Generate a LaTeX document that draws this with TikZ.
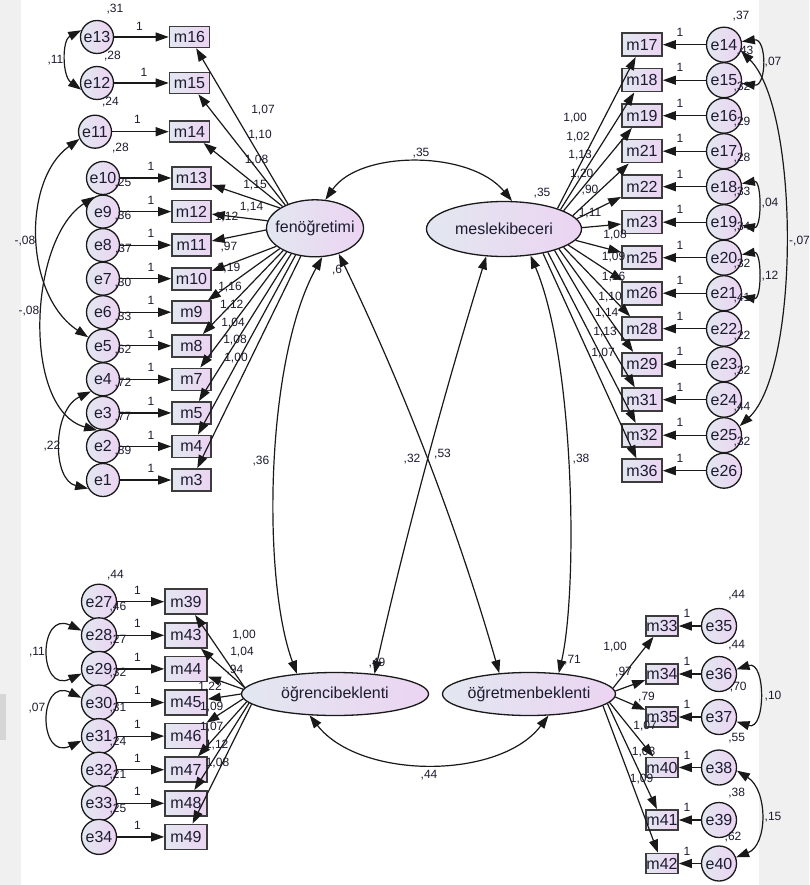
\documentclass[tikz,border=0pt]{standalone}
\usepackage{fontspec}
\setmainfont{Liberation Sans}
\usetikzlibrary{shapes.geometric,arrows.meta}
\definecolor{fa}{RGB}{226,231,240}
\definecolor{fb}{RGB}{236,212,242}
\definecolor{bgg}{RGB}{240,240,240}
\definecolor{bgd}{RGB}{214,214,214}
\definecolor{tx}{RGB}{28,28,48}
\definecolor{ln}{RGB}{25,25,25}
\definecolor{bx}{RGB}{60,60,60}
\tikzset{
 ev/.style={circle, draw=ln, line width=1.3pt, left color=fa, right color=fb, inner sep=0pt, font=\fontsize{16}{16}\selectfont, text=tx},
 evA/.style={ev, minimum size=33pt},
 evB/.style={ev, minimum size=35pt},
 ob/.style={rectangle, draw=bx, line width=1.6pt, left color=fa, right color=fb, inner sep=0pt, font=\fontsize{16}{16}\selectfont, text=tx},
 obA/.style={ob, minimum width=39pt, minimum height=22pt},
 obB/.style={ob, minimum width=40pt, minimum height=23pt},
 obC/.style={ob, minimum width=42pt, minimum height=25pt},
 obD/.style={ob, minimum width=32pt, minimum height=20pt},
 lat/.style={ellipse, draw=ln, line width=1.3pt, left color=fa, right color=fb, inner sep=0pt},
 latxt/.style={inner sep=0pt, font=\fontsize{16}{16}\selectfont, text=tx},
 lab/.style={inner sep=0pt, font=\fontsize{12}{12}\selectfont, text=tx},
 arr/.style={draw=ln, line width=1.2pt, -{Triangle[length=13pt,width=9pt]}},
 cov/.style={draw=ln, line width=1.2pt, {Triangle[length=13pt,width=9pt]}-{Triangle[length=13pt,width=9pt]}},
}
\begin{document}
\begin{tikzpicture}[x=1pt,y=-1pt]
\useasboundingbox (0,0) rectangle (809,885);
\fill[white] (0,0) rectangle (809,885);
\fill[bgg] (0,0) rectangle (21,885);
\fill[bgg] (759,0) rectangle (809,885);
\fill[bgd] (0,694) rectangle (6,740);

% latent variables
\node[lat, minimum width=97pt, minimum height=57pt, label={[name=fent,latxt]center:fenöğretimi}] (fen) at (315,228.3) {};
\node[lat, minimum width=155pt, minimum height=55pt, label={[name=meslt,latxt]center:meslekibeceri}] (mesl) at (504,229) {};
\node[lat, minimum width=187pt, minimum height=43pt, label={[name=ogrtx,latxt]center:öğrencibeklenti}] (ogr) at (335,694) {};
\node[lat, minimum width=173pt, minimum height=43pt, label={[name=ogrttx,latxt]center:öğretmenbeklenti}] (ogrt) at (529,694) {};

% top-left group
\node[evA] (e13) at (97,37) {e13};
\node[evA] (e12) at (97,83) {e12};
\node[evA] (e11) at (95,131.7) {e11};
\node[obA, minimum width=40pt, minimum height=21pt] (m16) at (189.5,37) {m16};
\node[obA, minimum width=40pt, minimum height=21pt] (m15) at (189.5,83) {m15};
\node[obA, minimum width=40pt, minimum height=21pt] (m14) at (189.5,131.7) {m14};
\foreach \e/\m/\y in {10/13/178, 9/12/211.6, 8/11/245.1, 7/10/278.7, 6/9/312.2, 5/8/345.8, 4/7/379.3, 3/5/412.9, 2/4/446.4, 1/3/480} {
  \node[evA] (e\e) at (103,\y) {e\e};
  \node[obA] (m\m) at (191.5,\y) {m\m};
  \node[lab] (one\e) at (151,\y-11.5) {1};
}
\node[lab] (one13) at (139.5,26) {1};
\node[lab] (one12) at (144,72.5) {1};
\node[lab] (one11) at (137.5,119.5) {1};

% top-right group
\foreach \e/\m/\y in {14/17/44.7, 15/18/80.2, 16/19/115.7, 17/21/151.2, 18/22/186.7, 19/23/222.2, 20/25/257.7, 21/26/293.2, 22/28/328.7, 23/29/364.2, 24/31/399.7, 25/32/435.2, 26/36/470.7} {
  \node[evB] (e\e) at (724,\y) {e\e};
  \node[obB] (m\m) at (642,\y) {m\m};
  \node[lab] (one\e) at (680,\y-12.5) {1};
}

% bottom-left group
\foreach \e/\m/\y in {27/39/601.7, 28/43/635.3, 29/44/668.9, 30/45/702.5, 31/46/736.1, 32/47/769.7, 33/48/803.3, 34/49/836.9} {
  \node[evB] (e\e) at (99,\y) {e\e};
  \node[obC] (m\m) at (186,\y) {m\m};
  \node[lab] (one\e) at (137.5,\y-11.7) {1};
}

% bottom-right group
\foreach \e/\m/\y in {35/33/626, 36/34/674, 37/35/717, 38/40/767.5, 39/41/820, 40/42/863.5} {
  \node[evB] (e\e) at (719,\y) {e\e};
  \node[obD] (m\m) at (662,\y) {m\m};
  \node[lab] (one\e) at (687,\y-12.5) {1};
}

% path coefficient labels
\foreach \x/\y/\t [count=\i] in {263/110/{1,07}, 260/135/{1,10}, 256.5/160/{1,08}, 255/185/{1,15}, 251.5/207/{1,14}, 226.5/217/{1,12}, 229/247/{,97}, 228.5/268/{1,19}, 230/286.7/{1,16}, 231.7/305/{1,12}, 233/323/{1,04}, 235/340/{1,08}, 236/358/{1,00},
  575/118/{1,00}, 578/137/{1,02}, 580/155/{1,13}, 581.7/174/{1,20}, 590/190/{,90}, 590/213/{1,11}, 615/235/{1,08}, 613.5/257/{1,09}, 613.5/277/{1,16}, 610/297/{1,10}, 606.7/313/{1,14}, 605/332/{1,13}, 603/353/{1,07},
  244/635/{1,00}, 242/651.7/{1,04}, 235/670/{,94}, 210/687/{1,22}, 211.7/707/{1,09}, 211.7/727.5/{1,07}, 216.7/745/{1,12}, 217.5/763/{1,08},
  615/647/{1,00}, 623.5/672/{,97}, 646.5/697/{,79}, 645/726/{1,07}, 643.5/752.5/{1,03}, 641.5/779/{1,09}}
  \node[lab] (pc\i) at (\x,\y) {\t};

% variance labels
\foreach \x/\y/\t [count=\i] in {115/9/{,31}, 112.5/56/{,28}, 110.5/102.5/{,24}, 120.5/148/{,28}, 123/183/{,25}, 123/216/{,36}, 123.5/249/{,37}, 123/283/{,30}, 123/317/{,33}, 123/350/{,62}, 123/383/{,72}, 123/417/{,77}, 123/451/{,89},
  741/16/{,37}, 745/51/{,43}, 742/87.5/{,32}, 742/122.5/{,29}, 742/158/{,28}, 742/192.5/{,33}, 742/227.5/{,34}, 742/264/{,32}, 742/298/{,41}, 742/336/{,22}, 742/371/{,32}, 742/407/{,44}, 742/442/{,32},
  115.5/575/{,44}, 118/606.7/{,46}, 118/640/{,27}, 118/673.5/{,32}, 118/708/{,31}, 118/741.7/{,24}, 118/775/{,21}, 118/809/{,25},
  736.7/595/{,44}, 736.7/645/{,44}, 738.3/686.7/{,70}, 736.7/738.3/{,55}, 736.7/792.7/{,38}, 733/836.7/{,62},
  421/153/{,35}, 542/193/{,35}, 337/270/{,6}, 572.5/660/{,71}, 377/663/{,49}, 429/775/{,44}, 261/461/{,36}, 412/459/{,32}, 442.5/454/{,53}, 581/459/{,38},
  55.5/60/{,11}, 25/241/{-,08}, 29/311/{-,08}, 52/446/{,22}, 773/62/{,07}, 770/203/{,04}, 770/276/{,12}, 37/652/{,11}, 37/708/{,07}, 773/696/{,10}, 773/817/{,15}}
  \node[lab] (vl\i) at (\x,\y) {\t};
\node[lab, anchor=west] (vlm07) at (789,241) {-,07};

% error -> indicator arrows
\foreach \e/\m in {13/16, 12/15, 11/14, 10/13, 9/12, 8/11, 7/10, 6/9, 5/8, 4/7, 3/5, 2/4, 1/3,
  14/17, 15/18, 16/19, 17/21, 18/22, 19/23, 20/25, 21/26, 22/28, 23/29, 24/31, 25/32, 26/36,
  27/39, 28/43, 29/44, 30/45, 31/46, 32/47, 33/48, 34/49,
  35/33, 36/34, 37/35, 38/40, 39/41, 40/42}
  \draw[arr] (e\e) -- (m\m);

% latent -> indicator arrows
\foreach \m/\a in {16/138, 15/142, 14/146, 13/150, 12/171, 11/182, 10/205, 9/210, 8/215, 7/220, 5/227, 4/234, 3/243}
  \draw[arr] (fen.\a) -- (m\m);
\foreach \m/\a in {17/21, 18/19, 19/17, 21/11, 22/8, 23/1, 25/-9, 26/-14, 28/-17, 29/-20, 31/-23, 32/-28, 36/-32}
  \draw[arr] (mesl.\a) -- (m\m);
\foreach \m/\a in {39/176, 43/176.5, 44/177.5, 45/180, 46/183, 47/185, 48/186, 49/187}
  \draw[arr] (ogr.\a) -- (m\m);
\foreach \m/\a in {33/4, 34/2, 35/-2, 40/-6, 41/-7.5, 42/-9}
  \draw[arr] (ogrt.\a) -- (m\m);

% covariances between errors
\draw[cov] (e13.157) .. controls (62,40) and (62,76) .. (e12.203);
\draw[cov] (e11.205) .. controls (22,180) and (24,295) .. (e5.150);
\draw[cov] (e9.120) .. controls (28,240) and (22,410) .. (e2.110);
\draw[cov] (e4.225) .. controls (52,410) and (52,480) .. (e1.210);
\draw[cov] (e14.10) .. controls (767,38) and (767,87) .. (e15.-10);
\draw[cov] (e18.10) .. controls (762,180) and (762,229) .. (e19.-10);
\draw[cov] (e20.10) .. controls (762,251) and (762,300) .. (e21.-10);
\draw[cov] (e14.-20) .. controls (800,110) and (800,370) .. (e25.30);
\draw[cov] (e28.165) .. controls (38,610) and (38,694) .. (e29.195);
\draw[cov] (e30.165) .. controls (38,677) and (38,761) .. (e31.195);
\draw[cov] (e36.15) .. controls (766,660) and (766,731) .. (e37.-15);
\draw[cov] (e38.-10) .. controls (768,790) and (768,845) .. (e40.20);

% covariances between latent variables
\draw[cov] (fen.70) .. controls (360,150) and (470,150) .. (mesl.74);
\draw[cov] (fen.-76) .. controls (265,360) and (262,580) .. (ogr.152);
\draw[cov] (fen.-47) .. controls (404,389) and (458,529) .. (ogrt.145);
\draw[cov] (mesl.237) .. controls (444,394) and (406,534) .. (ogr.27);
\draw[cov] (mesl.-45) .. controls (575,360) and (578,590) .. (ogrt.35);
\draw[cov] (ogr.-140) .. controls (360,780) and (500,780) .. (ogrt.-48);
\end{tikzpicture}
\end{document}
